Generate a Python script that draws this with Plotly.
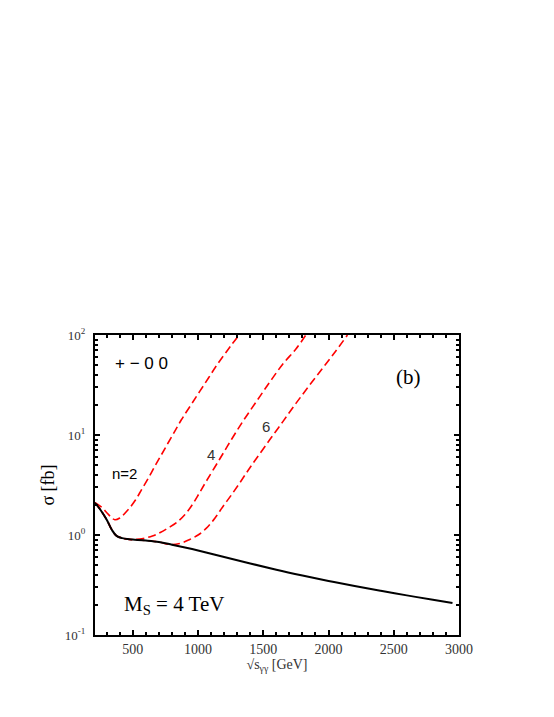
import plotly.graph_objects as go

# sqrt(s_gamma gamma) [GeV] and sigma [fb]
x_sm = [210, 250, 300, 340, 375, 420, 460, 500, 600, 700, 800, 900, 1000,
        1200, 1400, 1600, 1800, 2000, 2200, 2400, 2600, 2800, 2950]
y_sm = [2.1, 1.8, 1.42, 1.12, 0.98, 0.93, 0.91, 0.90, 0.88, 0.851, 0.80,
        0.75, 0.70, 0.603, 0.519, 0.449, 0.393, 0.347, 0.309, 0.277, 0.249,
        0.225, 0.209]

x_n2 = [210, 260, 302, 340, 362, 400, 464, 520, 567, 620, 668, 720, 770,
        820, 872, 950, 1050, 1150, 1250, 1314]
y_n2 = [2.1, 1.9, 1.66, 1.48, 1.42, 1.48, 1.79, 2.24, 2.84, 3.72, 4.85,
        6.38, 8.32, 10.8, 14.2, 20.4, 32.4, 51.3, 77.6, 100]

x_n4 = [210, 250, 300, 340, 375, 420, 460, 500, 580, 650, 710, 770, 835,
        900, 962, 1010, 1064, 1166, 1256, 1350, 1450, 1550, 1650, 1750, 1826]
y_n4 = [2.1, 1.8, 1.42, 1.12, 0.98, 0.93, 0.91, 0.90, 0.923, 0.977, 1.06,
        1.175, 1.33, 1.60, 2.07, 2.63, 3.47, 5.75, 9.02, 14.1, 21.9, 33.9,
        51.3, 72.4, 100]

x_n6 = [210, 250, 300, 340, 375, 420, 460, 500, 600, 700, 783, 860, 936,
        1000, 1064, 1130, 1191, 1255, 1319, 1383, 1447, 1549, 1650, 1750,
        1850, 1950, 2050, 2145]
y_n6 = [2.1, 1.8, 1.42, 1.12, 0.98, 0.93, 0.91, 0.90, 0.88, 0.851, 0.804,
        0.822, 0.902, 1.0, 1.17, 1.48, 1.93, 2.51, 3.31, 4.42, 5.82, 8.95,
        13.6, 20.7, 30.9, 45.7, 67.6, 100]

x_ticks = [500, 1000, 1500, 2000, 2500, 3000]
y_ticks = [0.1, 1, 10, 100]
y_ticktext = ["10<sup>-1</sup>", "10<sup>0</sup>", "10<sup>1</sup>", "10<sup>2</sup>"]
y_minor = [m * d for d in (0.1, 1, 10) for m in range(2, 10)]

serif = "Liberation Serif, Times New Roman, serif"
sans = "Liberation Sans, Arial, sans-serif"

fig = go.Figure()

for xs, ys in [(x_n2, y_n2), (x_n4, y_n4), (x_n6, y_n6)]:
    fig.add_trace(go.Scatter(x=xs, y=ys, mode="lines", line_shape="spline",
                             line=dict(color="#ff0000", width=1.6, dash="8px,4px"),
                             showlegend=False, hoverinfo="skip"))

fig.add_trace(go.Scatter(x=x_sm, y=y_sm, mode="lines", line_shape="spline",
                         line=dict(color="black", width=2),
                         showlegend=False, hoverinfo="skip"))

axis_common = dict(showline=True, linecolor="black", linewidth=2, mirror="ticks",
                   ticks="inside", ticklen=5, tickwidth=1.5, tickcolor="black",
                   showgrid=False, zeroline=False)

fig.update_xaxes(range=[210, 3000], tickvals=x_ticks,
                 tickfont=dict(family=serif, size=14, color="#333333"),
                 minor=dict(dtick=100, tick0=0, ticks="inside", ticklen=3,
                            tickwidth=1.5, tickcolor="black", showgrid=False),
                 title=dict(text="√s<sub>γγ</sub> [GeV]",
                            font=dict(family=serif, size=14, color="#333333"),
                            standoff=2),
                 **axis_common)

fig.update_yaxes(type="log", range=[-1, 2], tickvals=y_ticks, ticktext=y_ticktext,
                 tickfont=dict(family=serif, size=13, color="#333333"),
                 ticklabelstandoff=5,
                 minor=dict(tickvals=y_minor, ticks="inside", ticklen=3,
                            tickwidth=1.5, tickcolor="black", showgrid=False),
                 title=dict(text="σ [fb]",
                            font=dict(family=serif, size=18, color="black"),
                            standoff=6),
                 **axis_common)

annots = [
    dict(x=0.128, y=0.906, text="+ − 0 0", font=dict(family=sans, size=17, color="black")),
    dict(x=0.862, y=0.859, text="(b)", font=dict(family=serif, size=21, color="black")),
    dict(x=0.08, y=0.54, text="n=2", font=dict(family=sans, size=15, color="black")),
    dict(x=0.32, y=0.601, text="4", font=dict(family=sans, size=15, color="#333333")),
    dict(x=0.469, y=0.695, text="6", font=dict(family=sans, size=15, color="#333333")),
    dict(x=0.216, y=0.10, text="M<sub>S</sub> = 4 TeV", font=dict(family=serif, size=21, color="black")),
]
for a in annots:
    fig.add_annotation(xref="paper", yref="paper", showarrow=False,
                       xanchor="center", yanchor="middle", **a)

# the page body adds an 8px offset, so margins are shifted to compensate
fig.update_layout(width=554, height=717, paper_bgcolor="white", plot_bgcolor="white",
                  margin=dict(l=87, r=103, t=327, b=90), showlegend=False)

fig.write_html("out.html")
